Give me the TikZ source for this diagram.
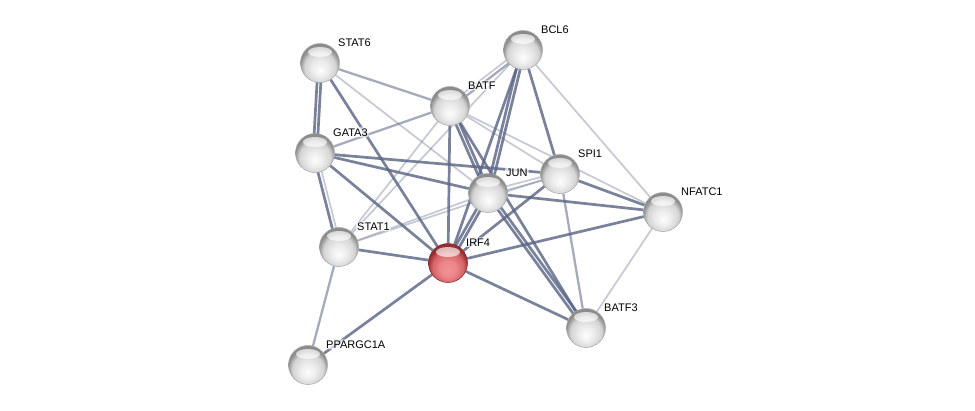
\documentclass[tikz,border=0pt]{standalone}
\usepackage{fontspec}
\setmainfont{Liberation Sans}
\usetikzlibrary{calc,backgrounds}
\definecolor{edg}{RGB}{92,102,134}
\definecolor{rimg}{RGB}{140,140,140}
\definecolor{midg}{RGB}{212,212,212}
\definecolor{ltg}{RGB}{236,236,236}
\definecolor{pinkc}{RGB}{242,145,148}
\definecolor{midr}{RGB}{214,98,102}
\definecolor{rimr}{RGB}{150,45,50}
\pgfdeclareradialshading{gball}{\pgfpoint{0bp}{-10bp}}{color(0bp)=(white!90!ltg); color(10bp)=(ltg); color(20bp)=(midg); color(26bp)=(rimg); color(50bp)=(rimg)}
\pgfdeclareradialshading{rball}{\pgfpoint{0bp}{-10bp}}{color(0bp)=(pinkc); color(10bp)=(pinkc!80!midr); color(20bp)=(midr); color(26bp)=(rimr); color(50bp)=(rimr)}
\tikzset{
  ball/.style={circle, minimum size=39pt, inner sep=0pt, shading=gball, draw=black!35, line width=0.5pt},
  redball/.style={ball, shading=rball, draw=rimr!80!black},
  lbl/.style={anchor=base west, font=\fontsize{11}{13}\selectfont, fill=white, fill opacity=0.7, text opacity=1, inner sep=1pt, rounded corners=2pt},
  et/.style={draw=edg, line width=2.7pt, opacity=0.82},
  em/.style={draw=edg, line width=2.3pt, opacity=0.55},
  el/.style={draw=edg, line width=1.7pt, opacity=0.35},
  hl/.style={fill=white, opacity=0.65}
}
\newcommand{\edgepair}[4]{%
  \draw[#3] ($(#1)!1.9pt!90:(#2)$) -- ($(#2)!1.9pt!-90:(#1)$);
  \draw[#4] ($(#1)!1.9pt!-90:(#2)$) -- ($(#2)!1.9pt!90:(#1)$);}
\begin{document}
\begin{tikzpicture}[x=1pt,y=-1pt]
\useasboundingbox (0,0) rectangle (975,410);
% nodes
\node[ball] (STAT6) at (320,63) {};
\node[ball] (BCL6) at (523,50) {};
\node[ball] (BATF) at (450,106) {};
\node[ball] (GATA3) at (315,153) {};
\node[ball] (SPI1) at (560,174) {};
\node[ball] (JUN) at (488,193) {};
\node[ball] (NFATC1) at (663,212) {};
\node[ball] (STAT1) at (339,247) {};
\node[redball] (IRF4) at (448,263) {};
\node[ball] (BATF3) at (586,328) {};
\node[ball] (PPARGC1A) at (308,365) {};
\foreach \n in {STAT6,BCL6,BATF,GATA3,SPI1,JUN,NFATC1,STAT1,IRF4,BATF3,PPARGC1A}
  \fill[hl] ($(\n)+(0,-11)$) ellipse [x radius=12pt, y radius=5pt];
% labels
\foreach \n in {STAT6,BCL6,BATF,GATA3,SPI1,JUN,NFATC1,STAT1,IRF4,BATF3,PPARGC1A}
  \node[lbl] (l\n) at ($(\n)+(17,-17)$) {\n};
% edges
\begin{pgfonlayer}{background}
\fill[white] (0,0) rectangle (975,410);
\edgepair{STAT6}{GATA3}{et}{et}
\draw[et] (STAT6) -- (IRF4);
\draw[em] (STAT6) -- (BATF);
\draw[el] (STAT6) -- (JUN);
\draw[em] (GATA3) -- (BATF);
\edgepair{GATA3}{STAT1}{el}{et}
\draw[et] (GATA3) -- (IRF4);
\draw[et] (GATA3) -- (SPI1);
\draw[et] (GATA3) -- (JUN);
\edgepair{BATF}{BCL6}{el}{em}
\draw[et] (BATF) -- (IRF4);
\edgepair{BATF}{JUN}{et}{et}
\draw[et] (BATF) -- (BATF3);
\draw[el] (BATF) -- (SPI1);
\draw[el] (BATF) -- (NFATC1);
\draw[el] (STAT1) -- (BATF);
\draw[el] (STAT1) -- (BCL6);
\draw[el] (STAT1) -- (JUN);
\draw[el] (STAT1) -- (SPI1);
\draw[et] (STAT1) -- (IRF4);
\draw[em] (STAT1) -- (PPARGC1A);
\draw[et] (PPARGC1A) -- (IRF4);
\draw[et] (BCL6) -- (IRF4);
\edgepair{BCL6}{JUN}{et}{et}
\draw[et] (BCL6) -- (SPI1);
\draw[el] (BCL6) -- (NFATC1);
\edgepair{SPI1}{JUN}{el}{el}
\draw[et] (SPI1) -- (NFATC1);
\draw[em] (SPI1) -- (BATF3);
\draw[et] (SPI1) -- (IRF4);
\draw[et] (JUN) -- (NFATC1);
\edgepair{JUN}{IRF4}{et}{et}
\edgepair{JUN}{BATF3}{et}{et}
\draw[et] (IRF4) -- (NFATC1);
\draw[et] (IRF4) -- (BATF3);
\draw[el] (NFATC1) -- (BATF3);
\end{pgfonlayer}
\end{tikzpicture}
\end{document}
